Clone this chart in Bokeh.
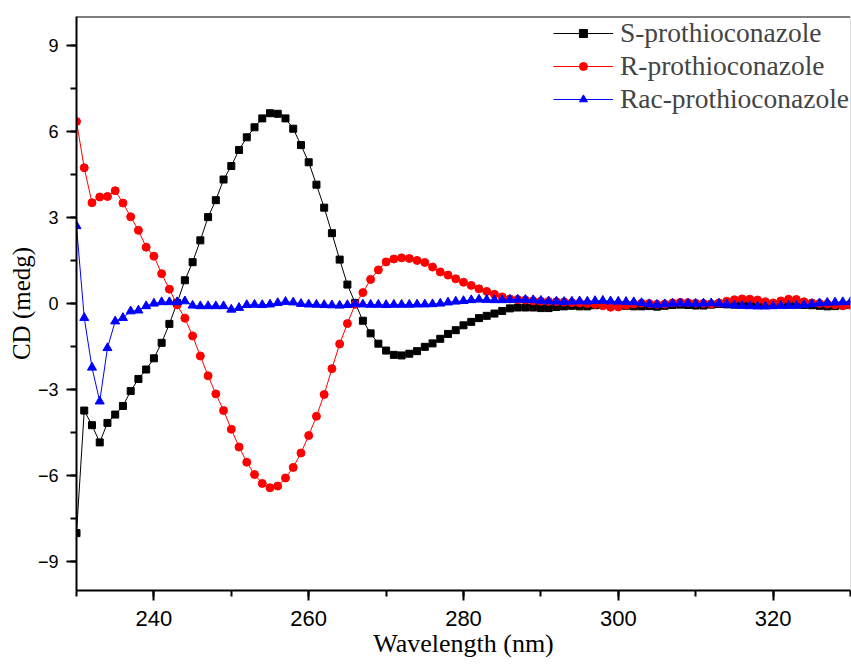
from bokeh.plotting import figure
from bokeh.models import SingleIntervalTicker, Span
from bokeh.embed import file_html
from bokeh.resources import INLINE

wavelength = list(range(230, 331))

s_cd = [-8.0, -3.73, -4.24, -4.84, -4.16, -3.87, -3.57, -3.05, -2.63, -2.30,
        -1.91, -1.37, -0.71, 0.02, 0.81, 1.44, 2.20, 3.01, 3.60, 4.32,
        4.79, 5.35, 5.79, 6.14, 6.45, 6.63, 6.61, 6.45, 6.09, 5.52,
        4.92, 4.14, 3.34, 2.45, 1.53, 0.66, 0.02, -0.60, -1.04, -1.40,
        -1.64, -1.79, -1.81, -1.75, -1.66, -1.51, -1.39, -1.23, -1.06, -0.93,
        -0.76, -0.64, -0.51, -0.43, -0.35, -0.26, -0.17, -0.14, -0.14, -0.14,
        -0.16, -0.16, -0.12, -0.10, -0.08, -0.10, -0.10, -0.06, -0.04, -0.05,
        -0.06, -0.08, -0.10, -0.10, -0.09, -0.11, -0.08, -0.05, -0.04, -0.05,
        -0.07, -0.07, -0.04, -0.02, -0.03, -0.04, -0.03, -0.02, -0.04, -0.05,
        -0.04, -0.03, -0.02, -0.04, -0.05, -0.06, -0.08, -0.10, -0.09, -0.06,
        -0.04]

r_cd = [6.34, 4.73, 3.51, 3.71, 3.73, 3.93, 3.50, 3.02, 2.55, 1.96,
        1.65, 1.04, 0.50, -0.05, -0.51, -1.13, -1.83, -2.52, -3.15, -3.73,
        -4.38, -5.00, -5.53, -5.96, -6.27, -6.42, -6.36, -6.08, -5.71, -5.21,
        -4.60, -3.93, -3.17, -2.27, -1.41, -0.70, -0.03, 0.38, 0.84, 1.17,
        1.45, 1.55, 1.59, 1.57, 1.50, 1.43, 1.27, 1.10, 0.99, 0.86,
        0.74, 0.63, 0.51, 0.42, 0.32, 0.23, 0.16, 0.14, 0.12, 0.09,
        0.08, 0.07, 0.06, 0.05, 0.03, 0.02, 0.00, -0.03, -0.08, -0.13,
        -0.12, -0.06, -0.02, 0.01, 0.00, -0.03, -0.02, 0.02, 0.04, 0.03,
        0.01, 0.00, -0.02, 0.02, 0.08, 0.13, 0.16, 0.15, 0.12, 0.06,
        0.02, 0.09, 0.15, 0.14, 0.06, 0.02, 0.00, -0.02, -0.04, -0.08,
        -0.06]

rac_cd = [2.70, -0.50, -2.23, -3.41, -1.55, -0.62, -0.50, -0.27, -0.24, -0.09,
          0.00, 0.05, 0.05, 0.05, 0.08, -0.07, -0.09, -0.09, -0.09, -0.09,
          -0.21, -0.15, -0.05, -0.04, -0.05, -0.03, 0.02, 0.06, 0.04, -0.01,
          -0.03, -0.04, -0.05, -0.06, -0.07, -0.05, -0.02, -0.03, -0.04, -0.04,
          -0.05, -0.04, -0.04, -0.04, -0.03, -0.03, -0.02, 0.00, 0.04, 0.07,
          0.09, 0.12, 0.14, 0.13, 0.12, 0.12, 0.13, 0.14, 0.13, 0.12,
          0.10, 0.08, 0.07, 0.06, 0.07, 0.08, 0.07, 0.09, 0.10, 0.08,
          0.07, 0.06, 0.05, 0.02, -0.02, -0.04, -0.02, 0.00, 0.01, 0.00,
          -0.01, 0.00, 0.01, 0.00, -0.03, -0.06, -0.08, -0.09, -0.10, -0.10,
          -0.09, -0.08, -0.08, -0.07, -0.05, -0.02, 0.01, 0.03, 0.04, 0.05,
          0.06]

series_names = ["S-prothioconazole", "R-prothioconazole", "Rac-prothioconazole"]
series_colors = ["#000000", "#ff0000", "#0000ff"]
series_markers = ["square", "circle", "triangle"]
series_sizes = [7, 8, 9]

p = figure(width=851, height=666, x_range=(230, 330), y_range=(-10, 10),
           output_backend="svg", toolbar_location=None,
           min_border_left=76, min_border_right=1, min_border_top=16,
           min_border_bottom=76)
p.outline_line_color = None
p.xgrid.visible = False
p.ygrid.visible = False
p.background_fill_color = "white"
p.border_fill_color = "white"

for vals, name, col, mk, sz in zip([s_cd, r_cd, rac_cd], series_names,
                                   series_colors, series_markers, series_sizes):
    p.line(wavelength, vals, line_color=col, line_width=1, legend_label=name)
    p.scatter(wavelength, vals, marker=mk, size=sz, fill_color=col,
              line_color=col, legend_label=name)

p.xaxis.ticker = SingleIntervalTicker(interval=20, num_minor_ticks=2)
p.yaxis.ticker = SingleIntervalTicker(interval=3, num_minor_ticks=2)

for ax in [p.xaxis[0], p.yaxis[0]]:
    ax.axis_line_width = 2
    ax.axis_line_color = "black"
    ax.major_tick_line_width = 2
    ax.minor_tick_line_width = 2
    ax.major_tick_in = 0
    ax.minor_tick_in = 0
    ax.major_tick_out = 10
    ax.minor_tick_out = 6
    ax.major_label_text_font = "Liberation Sans"
    ax.major_label_text_color = "black"
    ax.axis_label_text_font = "Liberation Serif"
    ax.axis_label_text_font_style = "normal"
    ax.axis_label_text_color = "black"

p.xaxis.major_label_text_font_size = "22px"
p.xaxis.major_label_standoff = 10
p.xaxis.axis_label = "Wavelength (nm)"
p.xaxis.axis_label_text_font_size = "26px"
p.xaxis.axis_label_standoff = 0

p.yaxis.major_label_text_font_size = "18px"
p.yaxis.major_label_standoff = 8
p.yaxis.axis_label = "CD (medg)"
p.yaxis.axis_label_text_font_size = "25px"
p.yaxis.axis_label_standoff = 0

p.add_layout(Span(location=10, dimension="width", line_color="black", line_width=2))
p.add_layout(Span(location=330, dimension="height", line_color="#bbbbbb", line_width=1))

lg = p.legend[0]
lg.location = "top_right"
lg.label_text_font = "Liberation Serif"
lg.label_text_font_size = "27.5px"
lg.glyph_width = 60
lg.label_standoff = 7
lg.spacing = 1
lg.padding = 1
lg.margin = 0
lg.border_line_alpha = 0
lg.background_fill_alpha = 0

open("out.html", "w").write(file_html(p, INLINE))
